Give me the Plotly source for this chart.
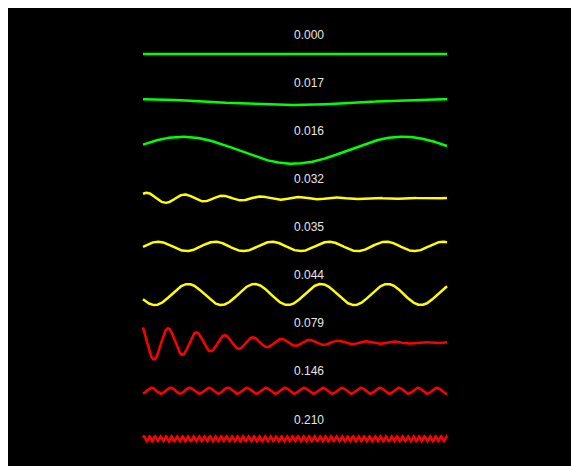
import numpy as np
import plotly.graph_objects as go

# --- data ---
labels = ["0.000", "0.017", "0.016", "0.032", "0.035", "0.044", "0.079", "0.146", "0.210"]
colors = ["#00ff00", "#00ff00", "#00ff00", "#ffff00", "#ffff00", "#ffff00", "#ff0000", "#ff0000", "#ff0000"]
amplitudes = [0.0, 2.8, 13.5, 5.5, 4.7, 10.5, 20.0, 3.0, 2.5]      # px
periods = [300, 300, 220, 38, 57, 66.5, 28.3, 19, 5.5]            # px
peak_at = [0, -3, 40, 4, 15, 45, -3, 8.7, 1]                      # px from left end
decay = [None, None, None, 100, None, None, 85, None, None]        # px e-folding length

span = 304          # wave length in px
row_gap = 48.1      # px between baselines

fig = go.Figure()
x = np.linspace(0, span, 1200)
for i, lab in enumerate(labels):
    base = -row_gap * i
    if decay[i] is None:
        env = np.ones_like(x)
    else:
        env = np.exp(-(x - peak_at[i]) / decay[i])
    y = base + amplitudes[i] * env * np.cos(2 * np.pi * (x - peak_at[i]) / periods[i])
    fig.add_trace(go.Scatter(x=x, y=y, mode="lines",
                             line=dict(color=colors[i], width=2.5),
                             hoverinfo="skip", showlegend=False))
    fig.add_annotation(x=166, y=base + 19.3, text=lab, showarrow=False,
                       xanchor="center", yanchor="middle",
                       font=dict(family="Liberation Sans, Arial", size=12, color="#e6e6e6"))

fig.update_xaxes(range=[-135, 444], visible=False, fixedrange=True)
fig.update_yaxes(range=[-420, 46], visible=False, fixedrange=True)
fig.update_layout(width=579, height=466,
                  margin=dict(l=0, t=0, r=0, b=0),
                  paper_bgcolor="white", plot_bgcolor="black")
fig.write_html("out.html")
